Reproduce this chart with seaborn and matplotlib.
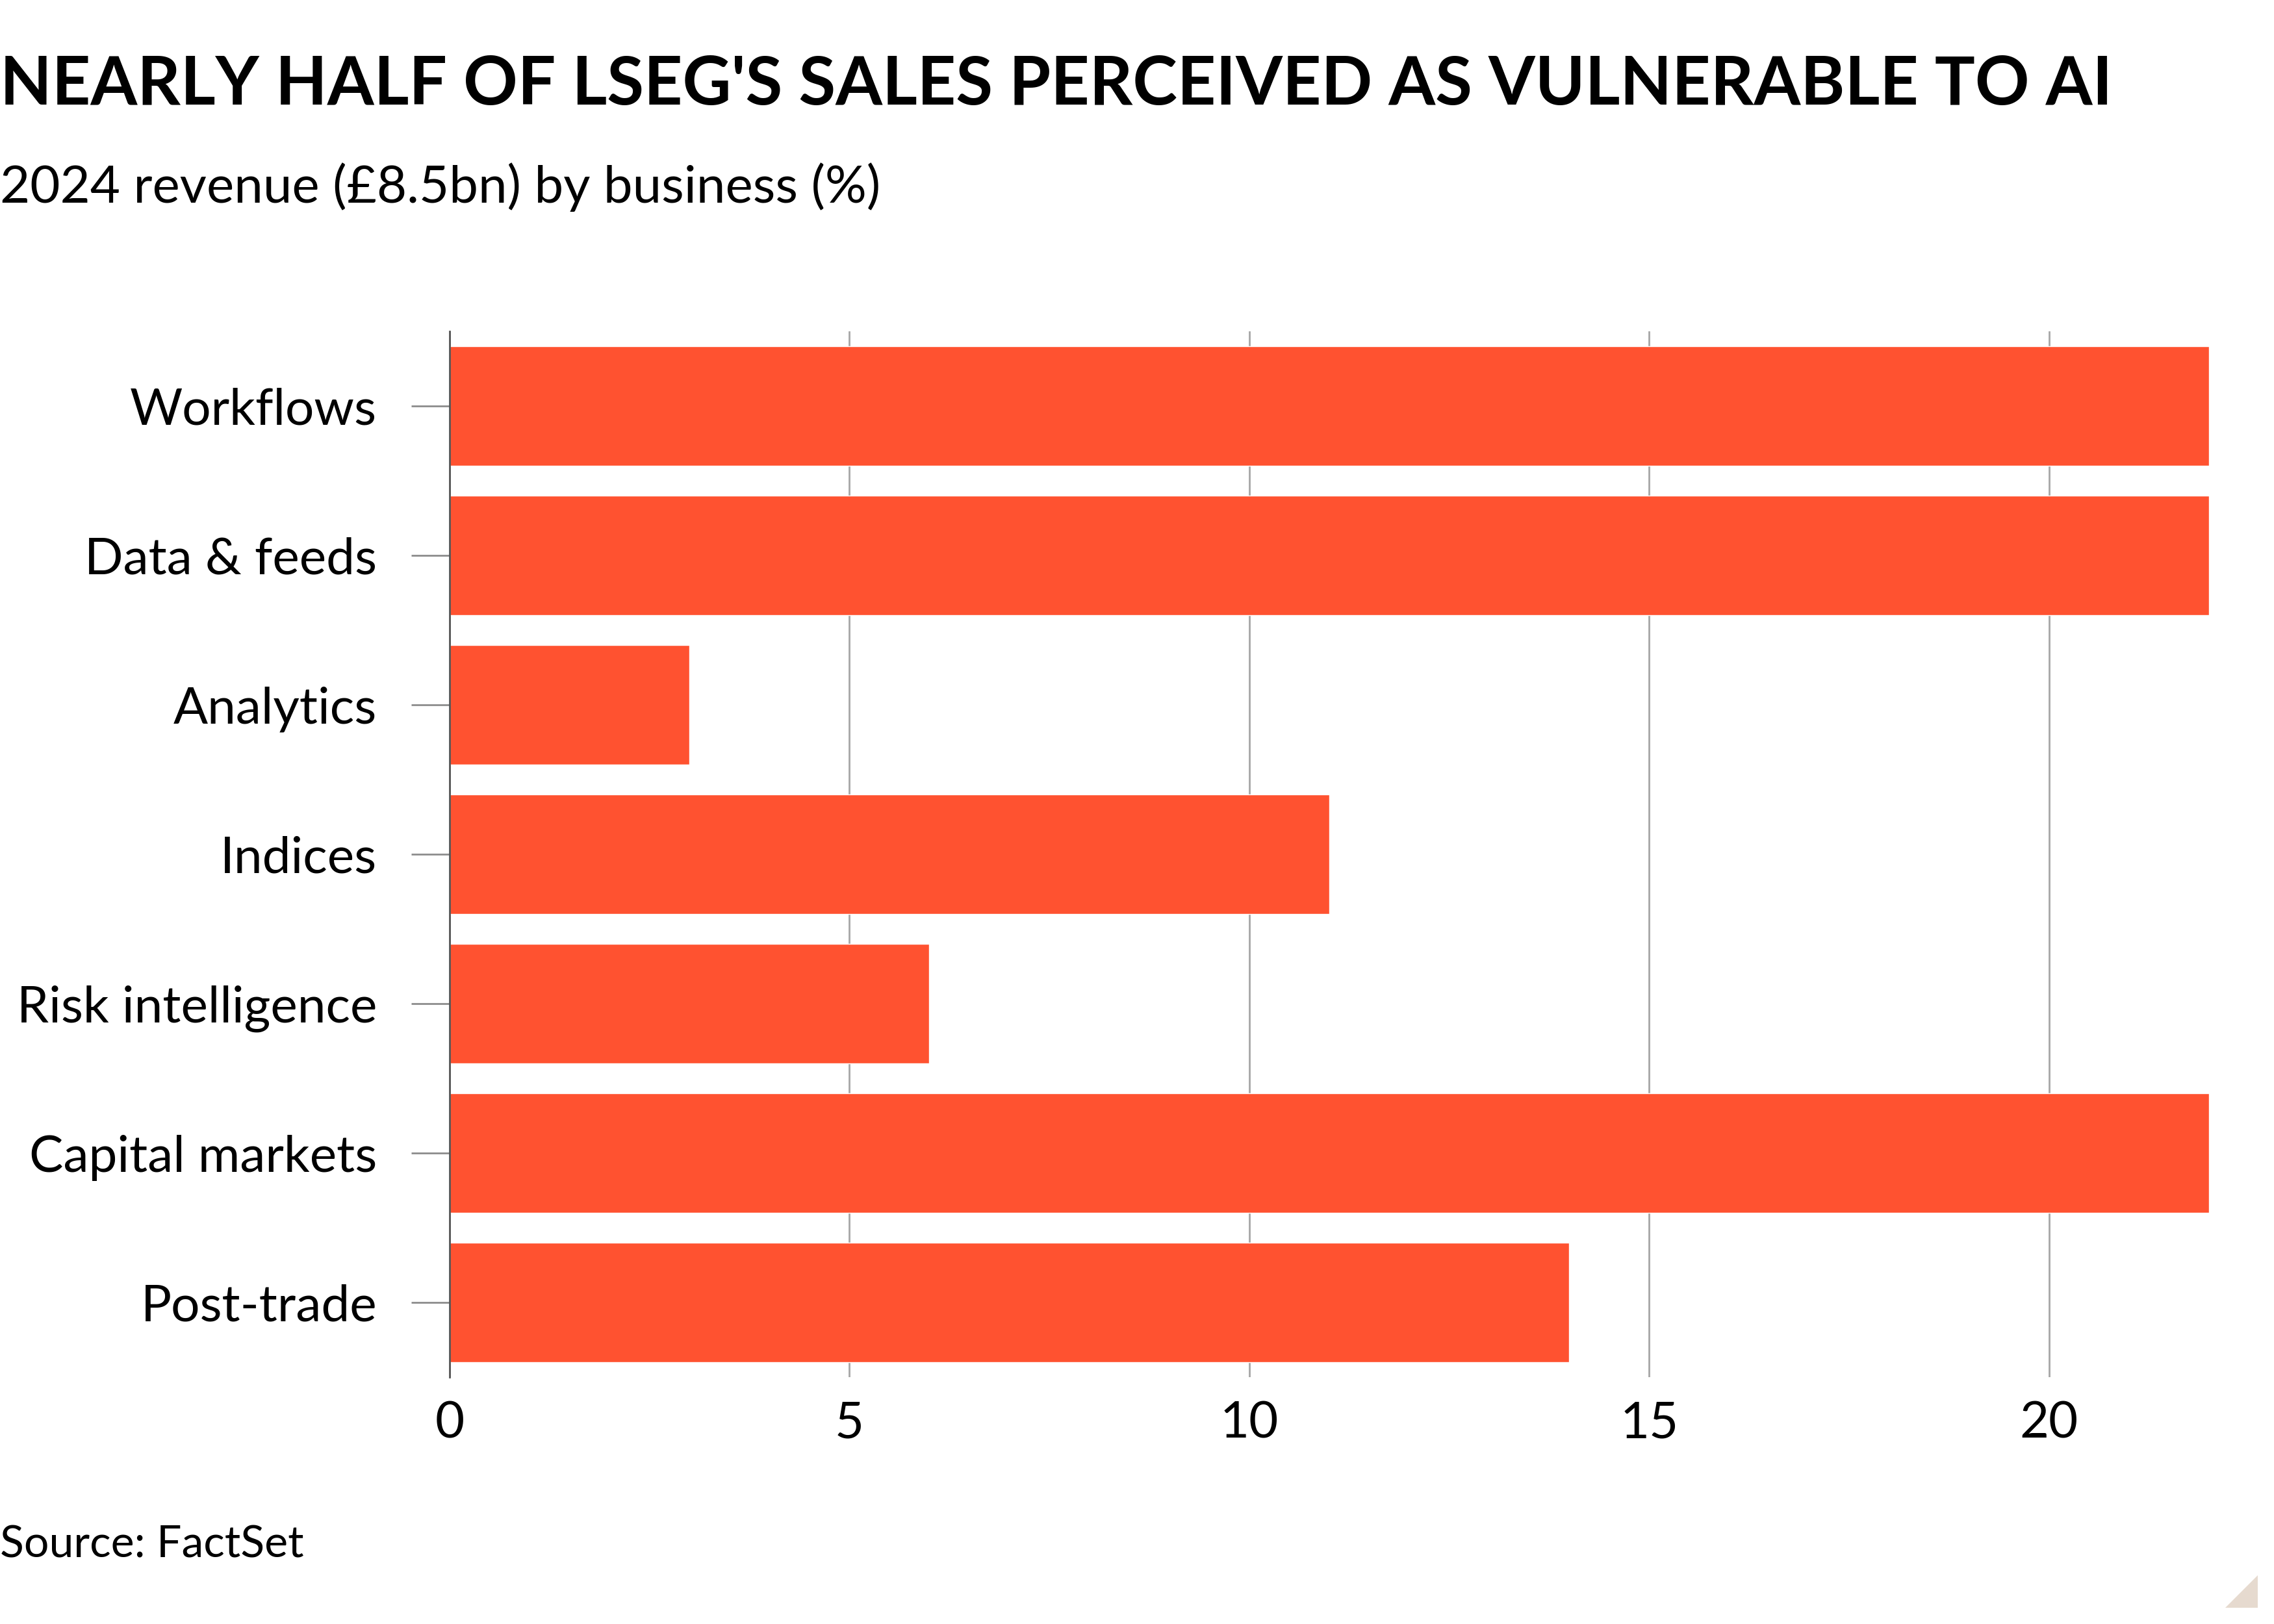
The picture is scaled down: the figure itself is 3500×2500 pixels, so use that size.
import matplotlib
matplotlib.use("Agg")
import matplotlib.pyplot as plt
import seaborn as sns
import pandas as pd
from matplotlib.patches import Polygon

# Data (share of 2024 revenue, %)
businesses = ["Workflows", "Data & feeds", "Analytics", "Indices",
              "Risk intelligence", "Capital markets", "Post-trade"]
revenue_share = [22, 22, 3, 11, 6, 22, 14]
x_ticks = [0, 5, 10, 15, 20]

title = "NEARLY HALF OF LSEG'S SALES PERCEIVED AS VULNERABLE TO AI"
subtitle = "2024 revenue (£8.5bn) by business (%)"
source = "Source: FactSet"

BAR = "#ff5230"
FONT = "Lato"

sns.set_theme(style="white")
plt.rcParams["font.family"] = [FONT, "DejaVu Sans"]

df = pd.DataFrame({"business": businesses, "share": revenue_share})

fig = plt.figure(figsize=(35, 25), dpi=100)
fig.patch.set_facecolor("white")
ax = fig.add_axes([0.1977, 0.152, 0.9714 - 0.1977, 0.644])

sns.barplot(data=df, x="share", y="business", color=BAR, saturation=1,
            width=0.8, ax=ax, zorder=3)

ax.set_xlim(0, 22)
ax.set_ylim(6.5, -0.5)
ax.set_xticks(x_ticks)
ax.set_xlabel("")
ax.set_ylabel("")

ax.grid(axis="x", color="#a6a6a6", linewidth=2, zorder=0)
ax.grid(axis="y", visible=False)
for side in ["top", "right", "bottom"]:
    ax.spines[side].set_visible(False)
ax.spines["left"].set_color("#555555")
ax.spines["left"].set_linewidth(2)
ax.spines["left"].set_zorder(4)

ax.tick_params(axis="y", length=42.5, width=2, color="#8c8c8c", pad=38,
               labelsize=56.5, labelcolor="black", left=True)
ax.tick_params(axis="x", length=0, pad=26, labelsize=56, labelcolor="black")

fig.text(0.0, 1 - 161 / 2500, title, fontsize=74.5, fontweight="bold",
         ha="left", va="baseline", color="black")
fig.text(0.0, 1 - 312 / 2500, subtitle, fontsize=57.5, ha="left",
         va="baseline", color="black")
fig.text(0.0, 1 - 2398 / 2500, source, fontsize=49, ha="left",
         va="baseline", color="black")

# small corner triangle, bottom right
tri = Polygon([[3425 / 3500, 1 - 2475 / 2500], [3475 / 3500, 1 - 2475 / 2500],
               [3475 / 3500, 1 - 2425 / 2500]], closed=True,
              transform=fig.transFigure, facecolor="#e6dacf", edgecolor="none")
fig.patches.append(tri)

fig.savefig("out.png", dpi=100)
